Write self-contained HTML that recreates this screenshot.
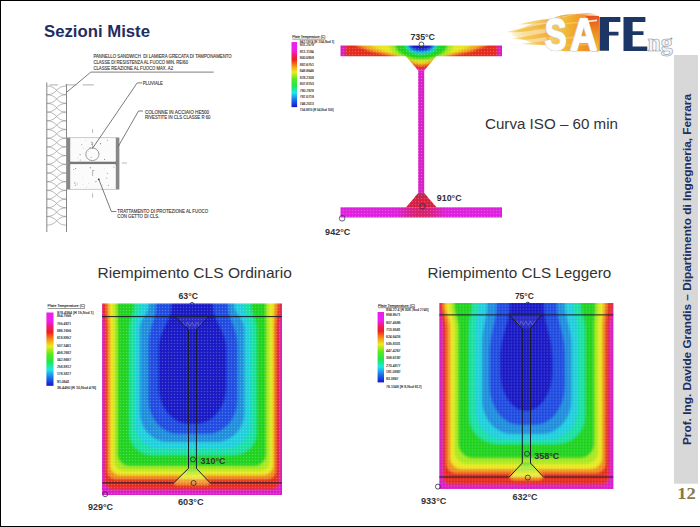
<!DOCTYPE html>
<html><head><meta charset="utf-8"><title>Sezioni Miste</title>
<style>
html,body{margin:0;padding:0;background:#fff;}
body{width:700px;height:527px;overflow:hidden;position:relative;font-family:"Liberation Sans",sans-serif;}
svg{position:absolute;left:0;top:0;display:block;}
</style></head><body>
<svg width="700" height="527" viewBox="0 0 700 527" shape-rendering="auto">
<rect x="0" y="0" width="700" height="1" fill="#000"/>
<rect x="0" y="0" width="1" height="527" fill="#000"/>
<rect x="0" y="526" width="700" height="1" fill="#000"/>
<text x="44" y="37" font-size="17" fill="#1f2d5f" font-weight="bold" text-anchor="start" font-family='"Liberation Sans", sans-serif' textLength="106" lengthAdjust="spacingAndGlyphs" >Sezioni Miste</text>
<path d="M46.8 82.5V232M66.5 84V232" stroke="#666" stroke-width="0.8" fill="none"/>
<path d="M46.8 86.0C57.8 86.0 55.5 94.7 66.5 94.7M46.8 94.7C57.8 94.7 55.5 86.0 66.5 86.0M46.8 94.7C57.8 94.7 55.5 103.4 66.5 103.4M46.8 103.4C57.8 103.4 55.5 94.7 66.5 94.7M46.8 103.4C57.8 103.4 55.5 112.1 66.5 112.1M46.8 112.1C57.8 112.1 55.5 103.4 66.5 103.4M46.8 112.1C57.8 112.1 55.5 120.8 66.5 120.8M46.8 120.8C57.8 120.8 55.5 112.1 66.5 112.1M46.8 120.8C57.8 120.8 55.5 129.5 66.5 129.5M46.8 129.5C57.8 129.5 55.5 120.8 66.5 120.8M46.8 129.5C57.8 129.5 55.5 138.2 66.5 138.2M46.8 138.2C57.8 138.2 55.5 129.5 66.5 129.5M46.8 138.2C57.8 138.2 55.5 146.9 66.5 146.9M46.8 146.9C57.8 146.9 55.5 138.2 66.5 138.2M46.8 146.9C57.8 146.9 55.5 155.6 66.5 155.6M46.8 155.6C57.8 155.6 55.5 146.9 66.5 146.9M46.8 155.6C57.8 155.6 55.5 164.3 66.5 164.3M46.8 164.3C57.8 164.3 55.5 155.6 66.5 155.6M46.8 164.3C57.8 164.3 55.5 173.0 66.5 173.0M46.8 173.0C57.8 173.0 55.5 164.3 66.5 164.3M46.8 173.0C57.8 173.0 55.5 181.7 66.5 181.7M46.8 181.7C57.8 181.7 55.5 173.0 66.5 173.0M46.8 181.7C57.8 181.7 55.5 190.4 66.5 190.4M46.8 190.4C57.8 190.4 55.5 181.7 66.5 181.7M46.8 190.4C57.8 190.4 55.5 199.1 66.5 199.1M46.8 199.1C57.8 199.1 55.5 190.4 66.5 190.4M46.8 199.1C57.8 199.1 55.5 207.8 66.5 207.8M46.8 207.8C57.8 207.8 55.5 199.1 66.5 199.1M46.8 207.8C57.8 207.8 55.5 216.5 66.5 216.5M46.8 216.5C57.8 216.5 55.5 207.8 66.5 207.8M46.8 216.5C57.8 216.5 55.5 225.2 66.5 225.2M46.8 225.2C57.8 225.2 55.5 216.5 66.5 216.5" stroke="#8a8a8a" stroke-width="0.6" fill="none"/>
<rect x="66.8" y="137.8" width="52.3" height="51.4" fill="#fbfbfb" stroke="#999" stroke-width="0.5"/>
<rect x="66.8" y="137.8" width="3.4" height="51.4" fill="#888"/>
<rect x="115.8" y="137.8" width="3.3" height="51.4" fill="#888"/>
<rect x="70" y="161.7" width="46" height="2.4" fill="#777"/>
<path d="M70 161.7l-1.5 -1.5M70 164.1l-1.5 1.5M115.8 161.7l1.5 -1.5M115.8 164.1l1.5 1.5" stroke="#777" stroke-width="0.8"/>
<ellipse cx="92.4" cy="154.3" rx="6.6" ry="6.3" fill="none" stroke="#777" stroke-width="0.7"/>
<path d="M92.6 129.3V133M92.6 142V148M92.6 170V176M92.6 193.3V197.6M121.9 163H126.9" stroke="#888" stroke-width="0.6"/>
<circle cx="81.9" cy="144.8" r="0.5" fill="#888"/><circle cx="92.1" cy="144.2" r="0.3" fill="#888"/><circle cx="88.9" cy="183.1" r="0.3" fill="#888"/><circle cx="83.6" cy="148.1" r="0.3" fill="#888"/><circle cx="83.0" cy="184.3" r="0.3" fill="#888"/><circle cx="106.8" cy="177.9" r="0.5" fill="#888"/><circle cx="80.1" cy="154.6" r="0.6" fill="#888"/><circle cx="108.4" cy="185.2" r="0.5" fill="#888"/><circle cx="75.6" cy="168.5" r="0.6" fill="#888"/><circle cx="88.3" cy="151.7" r="0.3" fill="#888"/><circle cx="91.9" cy="144.2" r="0.6" fill="#888"/><circle cx="107.3" cy="140.3" r="0.5" fill="#888"/><circle cx="96.0" cy="181.5" r="0.6" fill="#888"/><circle cx="80.2" cy="159.9" r="0.5" fill="#888"/><circle cx="90.1" cy="147.6" r="0.5" fill="#888"/><circle cx="82.9" cy="177.5" r="0.3" fill="#888"/><circle cx="73.9" cy="169.4" r="0.5" fill="#888"/><circle cx="93.8" cy="170.5" r="0.6" fill="#888"/><circle cx="86.4" cy="186.9" r="0.3" fill="#888"/><circle cx="74.8" cy="182.9" r="0.6" fill="#888"/><circle cx="98.6" cy="153.0" r="0.5" fill="#888"/><circle cx="90.3" cy="167.7" r="0.6" fill="#888"/><circle cx="95.5" cy="182.5" r="0.3" fill="#888"/><circle cx="107.3" cy="173.3" r="0.5" fill="#888"/><circle cx="104.1" cy="168.9" r="0.3" fill="#888"/><circle cx="77.1" cy="183.9" r="0.5" fill="#888"/><circle cx="91.3" cy="142.0" r="0.6" fill="#888"/><circle cx="75.5" cy="185.3" r="0.5" fill="#888"/><circle cx="102.9" cy="185.1" r="0.3" fill="#888"/><circle cx="85.6" cy="155.1" r="0.3" fill="#888"/><circle cx="104.6" cy="159.3" r="0.6" fill="#888"/><circle cx="100.6" cy="143.7" r="0.6" fill="#888"/><circle cx="77.7" cy="157.9" r="0.3" fill="#888"/><circle cx="85.9" cy="140.4" r="0.3" fill="#888"/><circle cx="91.1" cy="157.2" r="0.5" fill="#888"/><circle cx="113.9" cy="166.9" r="0.5" fill="#888"/>
<text x="93.4" y="57.5" font-size="4.6" fill="#3a3a3a" font-weight="normal" text-anchor="start" font-family='"Liberation Sans", sans-serif' textLength="138.3" lengthAdjust="spacingAndGlyphs" stroke="#3a3a3a" stroke-width="0.12">PANNELLO SANDWICH&#160;&#160;DI LAMIERA GRECATA DI TAMPONAMENTO</text>
<text x="93.4" y="63.8" font-size="4.6" fill="#3a3a3a" font-weight="normal" text-anchor="start" font-family='"Liberation Sans", sans-serif' textLength="94.6" lengthAdjust="spacingAndGlyphs" stroke="#3a3a3a" stroke-width="0.12">CLASSE DI RESISTENZA AL FUOCO MIN. REI60</text>
<text x="93.4" y="70.2" font-size="4.6" fill="#3a3a3a" font-weight="normal" text-anchor="start" font-family='"Liberation Sans", sans-serif' textLength="79.6" lengthAdjust="spacingAndGlyphs" stroke="#3a3a3a" stroke-width="0.12">CLASSE REAZIONE AL FUOCO MAX. A2</text>
<path d="M90.8 72.1H213.7M90.8 72.1L66.5 92.4" stroke="#444" stroke-width="0.7" fill="none"/>
<path d="M49.4 84.9H57.9M65.6 84.9H76.7M82.7 84.9H93.8" stroke="#999" stroke-width="0.8"/>
<text x="142.8" y="84.5" font-size="4.6" fill="#3a3a3a" font-weight="normal" text-anchor="start" font-family='"Liberation Sans", sans-serif' textLength="20" lengthAdjust="spacingAndGlyphs" stroke="#3a3a3a" stroke-width="0.12">PLUVIALE</text>
<path d="M142 82.9H137.2L92.4 148.5" stroke="#444" stroke-width="0.7" fill="none"/>
<text x="144.9" y="113.6" font-size="4.6" fill="#3a3a3a" font-weight="normal" text-anchor="start" font-family='"Liberation Sans", sans-serif' textLength="64.3" lengthAdjust="spacingAndGlyphs" stroke="#3a3a3a" stroke-width="0.12">COLONNE IN ACCIAIO HE500</text>
<text x="144.9" y="118.6" font-size="4.6" fill="#3a3a3a" font-weight="normal" text-anchor="start" font-family='"Liberation Sans", sans-serif' textLength="65.6" lengthAdjust="spacingAndGlyphs" stroke="#3a3a3a" stroke-width="0.12">RIVESTITE IN CLS CLASSE R 60</text>
<path d="M143 111H138.5L118.3 146.3" stroke="#444" stroke-width="0.7" fill="none"/>
<text x="117.3" y="213.1" font-size="4.6" fill="#3a3a3a" font-weight="normal" text-anchor="start" font-family='"Liberation Sans", sans-serif' textLength="90.9" lengthAdjust="spacingAndGlyphs" stroke="#3a3a3a" stroke-width="0.12">TRATTAMENTO DI PROTEZIONE AL FUOCO</text>
<text x="117.3" y="218.3" font-size="4.6" fill="#3a3a3a" font-weight="normal" text-anchor="start" font-family='"Liberation Sans", sans-serif' textLength="42" lengthAdjust="spacingAndGlyphs" stroke="#3a3a3a" stroke-width="0.12">CON GETTO DI CLS.</text>
<path d="M116.4 211.5H111.3L98.8 179.3" stroke="#444" stroke-width="0.7" fill="none"/>
<circle cx="98.8" cy="179.3" r="0.9" fill="#333"/>
<g>
<defs><pattern id="meshI" x="339" y="44" width="3" height="3" patternUnits="userSpaceOnUse"><rect x="0.85" y="0.85" width="1.3" height="1.3" fill="#fff" fill-opacity="0.22"/></pattern></defs>
<defs><clipPath id="ibc"><path d="M340.5 45.5H502V56.3H436.3L424.2 70.5H418.2L405.8 56.3H340.5Z"/></clipPath><filter id="bl1" x="-5%" y="-5%" width="110%" height="110%"><feGaussianBlur stdDeviation="0.8"/></filter></defs>
<g clip-path="url(#ibc)"><g filter="url(#bl1)">
<rect x="334" y="40" width="175" height="35" fill="#d81ec8"/>
<path fill="#e42a1e" d="M345.2 44L497.2 44L497.2 45.5L497.7 51L498.2 56.5L427.2 68.8L421.2 70L415.2 68.8L344.2 56.5L344.7 51L345.2 45.5Z"/>
<path fill="#f08c1e" d="M356.2 44L486.2 44L486.2 45.5L472.2 51L446.6 56.5L428.2 64.8L421.2 66L414.2 64.8L395.8 56.5L370.2 51L356.2 45.5Z"/>
<path fill="#f2b41e" d="M362.2 44L480.2 44L480.2 45.5L467.2 51L442.2 56.5L428.2 63.3L421.2 64.5L414.2 63.3L400.2 56.5L375.2 51L362.2 45.5Z"/>
<path fill="#e8e81e" d="M371.2 44L471.2 44L471.2 45.5L459.2 51L439.7 56.5L428.2 61.8L421.2 63L414.2 61.8L402.7 56.5L383.2 51L371.2 45.5Z"/>
<path fill="#a8e81e" d="M389.4 44L453 44L453 45.5C453 54.02 438.69 61 421.2 61C403.71 61 389.4 54.02 389.4 45.5Z"/>
<path fill="#1ed21e" d="M395.2 44L447.2 44L447.2 45.5C447.2 52.92 435.5 59 421.2 59C406.9 59 395.2 52.92 395.2 45.5Z"/>
<path fill="#14e0a0" d="M405.2 44L437.2 44L437.2 45.5C437.2 50.34 430 54.3 421.2 54.3C412.4 54.3 405.2 50.34 405.2 45.5Z"/>
<path fill="#1ccedc" d="M406.7 44L435.7 44L435.7 45.5C435.7 49.68 429.18 53.1 421.2 53.1C413.22 53.1 406.7 49.68 406.7 45.5Z"/>
<path fill="#1a8cdc" d="M408.2 44L434.2 44L434.2 45.5C434.2 49.13 428.35 52.1 421.2 52.1C414.05 52.1 408.2 49.13 408.2 45.5Z"/>
<path fill="#1a48e0" d="M409.2 44L433.2 44L433.2 45.5C433.2 48.69 427.8 51.3 421.2 51.3C414.6 51.3 409.2 48.69 409.2 45.5Z"/>
<path fill="#1212c4" d="M411.7 44L430.7 44L430.7 45.5C430.7 47.81 426.43 49.7 421.2 49.7C415.97 49.7 411.7 47.81 411.7 45.5Z"/>
</g>
<rect x="340" y="44" width="163" height="27" fill="url(#meshI)"/>
</g>
<rect x="418.2" y="70.3" width="6" height="123" fill="#d81ec8"/>
<defs><radialGradient id="bfg" cx="0.5" cy="0.35" r="0.6"><stop offset="0" stop-color="#dc1e3c"/><stop offset="0.6" stop-color="#d81e5a"/><stop offset="1" stop-color="#dc1edc"/></radialGradient><linearGradient id="bfl" x1="0" y1="0" x2="1" y2="0"><stop offset="0" stop-color="#dc1edc"/><stop offset="0.35" stop-color="#dc1edc"/><stop offset="0.45" stop-color="#d81e78"/><stop offset="0.5" stop-color="#d81e64"/><stop offset="0.55" stop-color="#d81e78"/><stop offset="0.65" stop-color="#dc1edc"/><stop offset="1" stop-color="#dc1edc"/></linearGradient></defs>
<rect x="340.5" y="207.3" width="161.5" height="10.2" fill="url(#bfl)"/>
<path d="M418.2 193.2H424.2L436.8 207.5H405.8Z" fill="#d41e40"/>
<path d="M418.2 193.2H424.2L428 197.3H414.4Z" fill="#b02848" opacity="0.8"/>
<path d="M418.2 70.3H424.2V193.2L436.8 207.3H502V217.5H340.5V207.3H405.8L418.2 193.2Z" fill="url(#meshI)"/>
<circle cx="421.4" cy="44.4" r="2.4" fill="none" stroke="#333" stroke-width="0.8"/>
<circle cx="422.5" cy="206.3" r="2.7" fill="none" stroke="#2a2a50" stroke-width="0.8"/>
<circle cx="342.1" cy="218.3" r="2.8" fill="none" stroke="#3a3a60" stroke-width="0.8"/>
</g>
<text x="410.4" y="39.8" font-size="9.6" fill="#333" font-weight="bold" text-anchor="start" font-family='"Liberation Sans", sans-serif' textLength="24.6" lengthAdjust="spacingAndGlyphs" >735°C</text>
<text x="436.8" y="200.7" font-size="9.6" fill="#333" font-weight="bold" text-anchor="start" font-family='"Liberation Sans", sans-serif' textLength="24.8" lengthAdjust="spacingAndGlyphs" >910°C</text>
<text x="325.1" y="234.6" font-size="9.6" fill="#333" font-weight="bold" text-anchor="start" font-family='"Liberation Sans", sans-serif' textLength="25.3" lengthAdjust="spacingAndGlyphs" >942°C</text>
<defs><linearGradient id="lg0" x1="0" y1="0" x2="0" y2="1"><stop offset="0" stop-color="#e81ee8"/><stop offset="0.12" stop-color="#f01ef0"/><stop offset="0.2" stop-color="#f01e64"/><stop offset="0.27" stop-color="#f01e1e"/><stop offset="0.37" stop-color="#f59614"/><stop offset="0.46" stop-color="#ecec1e"/><stop offset="0.57" stop-color="#5ae81e"/><stop offset="0.67" stop-color="#1ee84a"/><stop offset="0.78" stop-color="#1ee8e8"/><stop offset="0.88" stop-color="#1e78f0"/><stop offset="1" stop-color="#1414c8"/></linearGradient></defs>
<rect x="291.5" y="42.1" width="5.6" height="65" fill="url(#lg0)"/>
<text x="292.3" y="37.9" font-size="4" fill="#333" font-weight="normal" text-anchor="start" font-family='"Liberation Sans", sans-serif' textLength="33" lengthAdjust="spacingAndGlyphs" stroke="#333" stroke-width="0.15">Plate Temperature (C)</text>
<rect x="292.3" y="38.8" width="33" height="0.6" fill="#555"/>
<text x="299.8" y="42.75" font-size="4" fill="#333" font-weight="normal" text-anchor="start" font-family='"Liberation Sans", sans-serif' textLength="34.4" lengthAdjust="spacingAndGlyphs" stroke="#333" stroke-width="0.15">942.1874 [R 104,Nod 1]</text>
<text x="299.8" y="45.65" font-size="4" fill="#333" font-weight="normal" text-anchor="start" font-family='"Liberation Sans", sans-serif' textLength="14" lengthAdjust="spacingAndGlyphs" stroke="#333" stroke-width="0.15">931.2579</text>
<text x="299.8" y="52.95" font-size="4" fill="#333" font-weight="normal" text-anchor="start" font-family='"Liberation Sans", sans-serif' textLength="14" lengthAdjust="spacingAndGlyphs" stroke="#333" stroke-width="0.15">911.1184</text>
<text x="299.8" y="59.35" font-size="4" fill="#333" font-weight="normal" text-anchor="start" font-family='"Liberation Sans", sans-serif' textLength="14" lengthAdjust="spacingAndGlyphs" stroke="#333" stroke-width="0.15">900.0959</text>
<text x="299.8" y="65.85" font-size="4" fill="#333" font-weight="normal" text-anchor="start" font-family='"Liberation Sans", sans-serif' textLength="14" lengthAdjust="spacingAndGlyphs" stroke="#333" stroke-width="0.15">882.6751</text>
<text x="299.8" y="72.35" font-size="4" fill="#333" font-weight="normal" text-anchor="start" font-family='"Liberation Sans", sans-serif' textLength="14" lengthAdjust="spacingAndGlyphs" stroke="#333" stroke-width="0.15">848.8646</text>
<text x="299.8" y="78.85" font-size="4" fill="#333" font-weight="normal" text-anchor="start" font-family='"Liberation Sans", sans-serif' textLength="14" lengthAdjust="spacingAndGlyphs" stroke="#333" stroke-width="0.15">828.2338</text>
<text x="299.8" y="85.25" font-size="4" fill="#333" font-weight="normal" text-anchor="start" font-family='"Liberation Sans", sans-serif' textLength="14" lengthAdjust="spacingAndGlyphs" stroke="#333" stroke-width="0.15">807.8153</text>
<text x="299.8" y="91.75" font-size="4" fill="#333" font-weight="normal" text-anchor="start" font-family='"Liberation Sans", sans-serif' textLength="14" lengthAdjust="spacingAndGlyphs" stroke="#333" stroke-width="0.15">790.7928</text>
<text x="299.8" y="98.15" font-size="4" fill="#333" font-weight="normal" text-anchor="start" font-family='"Liberation Sans", sans-serif' textLength="14" lengthAdjust="spacingAndGlyphs" stroke="#333" stroke-width="0.15">782.0719</text>
<text x="299.8" y="104.65" font-size="4" fill="#333" font-weight="normal" text-anchor="start" font-family='"Liberation Sans", sans-serif' textLength="14" lengthAdjust="spacingAndGlyphs" stroke="#333" stroke-width="0.15">746.2013</text>
<text x="299.8" y="110.85" font-size="4" fill="#333" font-weight="normal" text-anchor="start" font-family='"Liberation Sans", sans-serif' textLength="33.7" lengthAdjust="spacingAndGlyphs" stroke="#333" stroke-width="0.15">734.5915 [R 54,Nod 100]</text>
<text x="485" y="129.3" font-size="15.2" fill="#333" font-weight="normal" text-anchor="start" font-family='"Liberation Sans", sans-serif' textLength="133" lengthAdjust="spacingAndGlyphs" >Curva ISO – 60 min</text>
<defs><linearGradient id="flm" x1="0" y1="0" x2="1" y2="0"><stop offset="0" stop-color="#f6d77a"/><stop offset="0.35" stop-color="#f3bb3a"/><stop offset="0.6" stop-color="#f0a227"/><stop offset="0.85" stop-color="#ee8a22"/><stop offset="1" stop-color="#e8561c"/></linearGradient><linearGradient id="flm2" x1="0" y1="0" x2="0" y2="1"><stop offset="0" stop-color="#e8501c"/><stop offset="0.45" stop-color="#f08a20"/><stop offset="1" stop-color="#f3c23a"/></linearGradient><linearGradient id="wsp" x1="0" y1="0" x2="1" y2="0"><stop offset="0" stop-color="#f6d878" stop-opacity="0.55"/><stop offset="0.3" stop-color="#f4c850"/><stop offset="1" stop-color="#f0a830"/></linearGradient></defs>
<path d="M546 24 C552 18 560 17 568 16 C576 14.5 586 15 598.8 16 L598.8 51.2 L566 51.2 C558 50.5 553 49 549 45 C545 39 544.5 30 546 24Z" fill="url(#flm)"/>
<path d="M586 16 L598.8 16 L598.8 51.2 L592 51.2 Z" fill="url(#flm2)"/>
<path d="M552 25 C562 23 572 22 584 21.5 L584 23 C572 23.5 562 24.5 552 26Z" fill="#f7d060" opacity="0.7"/>
<path d="M556 38 C566 37 576 36.5 588 36 L588 37.5 C576 38 566 38.8 556 39.5Z" fill="#f8d468" opacity="0.6"/>
<path d="M560 45 C570 44.2 580 44 592 44 L592 45.3 C580 45.5 570 46 560 46.5Z" fill="#f6c850" opacity="0.6"/>
<path d="M552 19 C560 14.5 570 13.5 580 14.8 C572 15.2 562 16.5 552 19Z" fill="#f0a030" opacity="0.85"/>
<path d="M570 16 C578 12.8 588 12.8 596 14.5 C588 14.5 578 15 570 16Z" fill="#f09030" opacity="0.8"/>
<path d="M512 33 C522 28 534 22 548 19.5 L550 46 C538 45 526 41 512 35Z" fill="url(#wsp)" opacity="0.55"/>
<path d="M516 30.2 C526 28.6 536 27.6 548 27.6 L548 28.6 C536 28.8 526 29.8 516 30.8Z" fill="#fff" opacity="0.7"/>
<path d="M520 36.2 C530 35.4 540 35.2 549 35.4 L549 36.4 C540 36.3 530 36.5 520 36.9Z" fill="#fff" opacity="0.6"/>
<path d="M506 32 C516 30 526 27.5 536 25.5 C542 24.3 547 23.5 551 23.2 L551 27.8 C545 28.2 539 29.2 532 30.6 C523 32.2 514 32.8 506 32Z" fill="url(#wsp)" opacity="0.95"/>
<path d="M512 38.5 C522 37 532 35 541 33.5 C545 32.8 549 32.3 552 32 L552 36.6 C546 37 540 38 533 39 C525 40 518 39.8 512 38.5Z" fill="url(#wsp)" opacity="0.9"/>
<path d="M518 24.5 C526 22.5 534 20.5 542 19.5 C546 19 549 18.8 551 18.8 L550 22 C544 22.2 538 23 532 23.8 C527 24.4 522 24.8 518 24.5Z" fill="url(#wsp)" opacity="0.75"/>
<path d="M521 43.5 C529 42.8 537 42 544 41.3 L550 41 L550 44.5 C543 45 536 45 529 44.6 C526 44.4 523 44 521 43.5Z" fill="url(#wsp)" opacity="0.7"/>
<path d="M528 28.8 C535 27.8 542 27 549 26.8 L549 29.2 C542 29.6 535 29.8 528 28.8Z" fill="url(#wsp)" opacity="0.6"/>
<text x="544.8" y="49.8" font-size="45" font-weight="bold" font-family='"Liberation Sans", sans-serif' fill="#fff" stroke="#cfcfcf" stroke-width="2.6" stroke-linejoin="round" textLength="21.8" lengthAdjust="spacingAndGlyphs">S</text>
<text x="544.8" y="49.8" font-size="45" font-weight="bold" font-family='"Liberation Sans", sans-serif' fill="#fff" stroke="#fff" stroke-width="1.3" stroke-linejoin="round" textLength="21.8" lengthAdjust="spacingAndGlyphs">S</text>
<text x="570.2" y="49.8" font-size="45" font-weight="bold" font-family='"Liberation Sans", sans-serif' fill="#fff" stroke="#cfcfcf" stroke-width="2.6" stroke-linejoin="round" textLength="27" lengthAdjust="spacingAndGlyphs">A</text>
<text x="570.2" y="49.8" font-size="45" font-weight="bold" font-family='"Liberation Sans", sans-serif' fill="#fff" stroke="#fff" stroke-width="1.3" stroke-linejoin="round" textLength="27" lengthAdjust="spacingAndGlyphs">A</text>
<path d="M588 20.5 L597 19.5 L597 21.2 L588 22.2Z" fill="#fff" opacity="0.85"/>
<path d="M599.5 17.1H620.4V22H609V31.8H618.5V35.6H609V50.8H599.5Z" fill="#1c3766"/>
<path d="M623.5 17.1H645.4V21.9H632.6V31.3H643.5V35.1H632.6V46.5H647.3V51H623.5Z" fill="#1c3766"/>
<text x="647.5" y="50.6" font-size="25" font-weight="bold" font-family='"Liberation Serif", serif' fill="#f4f6fa" stroke="#8a909c" stroke-width="0.6" textLength="25.2" lengthAdjust="spacingAndGlyphs">ng</text>
<rect x="674" y="55" width="24" height="428.7" fill="#d8d8d8"/>
<text transform="translate(691.2 445) rotate(-90)" x="0" y="0" font-size="11.8" font-weight="bold" fill="#1f2d5f" font-family='"Liberation Sans", sans-serif' textLength="351" lengthAdjust="spacingAndGlyphs">Prof. Ing. Davide Grandis – Dipartimento di Ingegneria, Ferrara</text>
<text x="677.3" y="498.6" font-size="16.6" fill="#887848" font-weight="bold" text-anchor="start" font-family='"Liberation Serif", serif' textLength="18.6" lengthAdjust="spacingAndGlyphs" >12</text>
<text x="97.5" y="277.5" font-size="15.3" fill="#333" font-weight="normal" text-anchor="start" font-family='"Liberation Sans", sans-serif' textLength="194.3" lengthAdjust="spacingAndGlyphs" >Riempimento CLS Ordinario</text>
<text x="427.5" y="277.5" font-size="15.3" fill="#333" font-weight="normal" text-anchor="start" font-family='"Liberation Sans", sans-serif' textLength="183.8" lengthAdjust="spacingAndGlyphs" >Riempimento CLS Leggero</text>
<defs><pattern id="meshL" x="100.9" y="302.9" width="3" height="3" patternUnits="userSpaceOnUse"><rect x="0.85" y="0.85" width="1.3" height="1.3" fill="#fff" fill-opacity="0.27"/></pattern></defs>
<defs><pattern id="meshR" x="437.8" y="301.5" width="3" height="3" patternUnits="userSpaceOnUse"><rect x="0.85" y="0.85" width="1.3" height="1.3" fill="#fff" fill-opacity="0.27"/></pattern></defs>
<defs><clipPath id="meshLclip"><rect x="102" y="303.4" width="180" height="191.6"/></clipPath></defs>
<g clip-path="url(#meshLclip)"><g filter="url(#bl1)">
<rect x="97" y="298.4" width="190" height="201.6" fill="#d81ec8"/>
<path fill="#e42a1e" d="M102 298.4L102 305.4C102 313.8 104.2 318.6 104.2 329.4L104.2 481.7A8 8 0 0 0 112.2 489.7L271.8 489.7A8 8 0 0 0 279.8 481.7L279.8 329.4C279.8 318.6 282 313.8 282 305.4L282 298.4Z"/>
<path fill="#f08c1e" d="M106.4 298.4L106.4 305.4C106.4 313.8 107.6 318.6 107.6 329.4L107.6 471A8 8 0 0 0 115.6 479L267.6 479A8 8 0 0 0 275.6 471L275.6 329.4C275.6 318.6 277.6 313.8 277.6 305.4L277.6 298.4Z"/>
<path fill="#e8e81e" d="M109.3 298.4L109.3 305.4C109.3 313.8 110.3 318.6 110.3 329.4L110.3 466A9 9 0 0 0 119.3 475L264.2 475A9 9 0 0 0 273.2 466L273.2 329.4C273.2 318.6 274 313.8 274 305.4L274 298.4Z"/>
<path fill="#a8e81e" d="M113.6 298.4L113.6 305.4C113.6 313.8 114 318.6 114 329.4L114 460.7A10 10 0 0 0 124 470.7L259.8 470.7A10 10 0 0 0 269.8 460.7L269.8 329.4C269.8 318.6 268.8 313.8 268.8 305.4L268.8 298.4Z"/>
<path fill="#1ed21e" d="M117 298.4L117 305.4C117 313.8 117.6 318.6 117.6 329.4L117.6 454.3A12 12 0 0 0 129.6 466.3L254.2 466.3A12 12 0 0 0 266.2 454.3L266.2 329.4C266.2 318.6 265.8 313.8 265.8 305.4L265.8 298.4Z"/>
<path fill="#14e0a0" d="M134.3 298.4L134.3 305.4C134.3 313.8 129.5 318.6 129.5 329.4L129.5 433A22 22 0 0 0 151.5 455L234.5 455A22 22 0 0 0 256.5 433L256.5 329.4C256.5 318.6 251 313.8 251 305.4L251 298.4Z"/>
<path fill="#1ccedc" d="M140.7 298.4L140.7 305.4C140.7 313.8 135 318.6 135 329.4L135 424A25 25 0 0 0 160 449L225.5 449A25 25 0 0 0 250.5 424L250.5 329.4C250.5 318.6 244 313.8 244 305.4L244 298.4Z"/>
<path fill="#1a8cdc" d="M148.6 298.4L148.6 305.4C148.6 313.8 139.8 318.6 139.8 329.4L139.8 412A28 30 0 0 0 167.8 442L216.5 442A28 30 0 0 0 244.5 412L244.5 329.4C244.5 318.6 234.5 313.8 234.5 305.4L234.5 298.4Z"/>
<path fill="#1a48e0" d="M156 298.4L156 305.4C156 319.26 148.5 327.18 148.5 345L148.5 400A30 34 0 0 0 178.5 434L207.5 434A30 34 0 0 0 237.5 400L237.5 345C237.5 327.18 228 319.26 228 305.4L228 298.4Z"/>
<path fill="#1212c4" d="M171.4 298.4L171.4 305.4C171.4 321.01 158.5 329.93 158.5 350L158.5 386A30 38 0 0 0 188.5 424L196.5 424A30 38 0 0 0 226.5 386L226.5 350C226.5 329.93 213 321.01 213 305.4L213 298.4Z"/>
<defs><linearGradient id="meshLfg" gradientUnits="userSpaceOnUse" x1="0" y1="468.4" x2="0" y2="488.9"><stop offset="0" stop-color="#1ed21e"/><stop offset="0.08" stop-color="#1ed21e"/><stop offset="0.08" stop-color="#a8e81e"/><stop offset="0.27" stop-color="#a8e81e"/><stop offset="0.27" stop-color="#e8e81e"/><stop offset="0.54" stop-color="#e8e81e"/><stop offset="0.54" stop-color="#f08c1e"/><stop offset="0.81" stop-color="#f08c1e"/><stop offset="0.81" stop-color="#e42a1e"/><stop offset="1" stop-color="#e42a1e"/></linearGradient></defs>
<path d="M188.5 468.4L196.4 468.4L210.2 482.9C206.2 486.9 200.45 488.9 192.45 488.9C184.45 488.9 177.6 486.9 173.6 482.9Z" fill="url(#meshLfg)"/>
</g></g>
<rect x="102" y="303.4" width="180" height="191.6" fill="url(#meshL)"/>
<path d="M174.8 316.6L209 316.6L196.4 329.6L188.5 329.6Z" fill="#b0b8e0" fill-opacity="0.10"/>
<path d="M182.65 322.45L185.03 326.35L187.41 322.45L189.79 326.35L192.18 322.45L194.56 326.35L196.94 322.45L199.32 326.35L201.7 322.45" fill="none" stroke="#8a94b8" stroke-width="0.6" opacity="0.8"/>
<path d="M188.5 468.4L196.4 468.4L210.2 482.9L173.6 482.9Z" fill="#fff" fill-opacity="0.12"/>
<path d="M102 316.6H282M102 482.9H173.6M210.2 482.9H282M174.8 316.6L188.5 329.6V468.4L173.6 482.9M209 316.6L196.4 329.6V468.4L210.2 482.9" stroke="#1a1a2a" stroke-width="1" fill="none"/>
<path d="M189.8 304A2.4 2.4 0 0 1 194.2 304" fill="none" stroke="#1a1a50" stroke-width="0.9"/>
<circle cx="193" cy="459.4" r="2.5" fill="none" stroke="#2a2a4a" stroke-width="0.8"/>
<circle cx="193.6" cy="483" r="2.5" fill="none" stroke="#2a2a4a" stroke-width="0.8"/>
<circle cx="105.2" cy="494.2" r="2.5" fill="none" stroke="#2a2a4a" stroke-width="0.8"/>
<text x="178.5" y="298.8" font-size="9.6" fill="#333" font-weight="bold" text-anchor="start" font-family='"Liberation Sans", sans-serif' textLength="19.5" lengthAdjust="spacingAndGlyphs" >63°C</text>
<text x="200.6" y="464" font-size="9.6" fill="#333" font-weight="bold" text-anchor="start" font-family='"Liberation Sans", sans-serif' textLength="24.8" lengthAdjust="spacingAndGlyphs" >310°C</text>
<text x="178" y="505" font-size="9.6" fill="#333" font-weight="bold" text-anchor="start" font-family='"Liberation Sans", sans-serif' textLength="25.6" lengthAdjust="spacingAndGlyphs" >603°C</text>
<text x="88" y="510" font-size="9.6" fill="#333" font-weight="bold" text-anchor="start" font-family='"Liberation Sans", sans-serif' textLength="25" lengthAdjust="spacingAndGlyphs" >929°C</text>
<defs><clipPath id="meshRclip"><rect x="439.3" y="303" width="174.1" height="186"/></clipPath></defs>
<g clip-path="url(#meshRclip)"><g filter="url(#bl1)">
<rect x="434.3" y="298" width="184.1" height="196" fill="#d81ec8"/>
<path fill="#e42a1e" d="M439.3 298L439.3 305C439.3 313.4 442.8 318.2 442.8 329L442.8 477A8 8 0 0 0 450.8 485L601.4 485A8 8 0 0 0 609.4 477L609.4 329C609.4 318.2 613.4 313.4 613.4 305L613.4 298Z"/>
<path fill="#f08c1e" d="M442.7 298L442.7 305C442.7 313.4 446.6 318.2 446.6 329L446.6 464A9 9 0 0 0 455.6 473L596.2 473A9 9 0 0 0 605.2 464L605.2 329C605.2 318.2 607 313.4 607 305L607 298Z"/>
<path fill="#e8e81e" d="M445.6 298L445.6 305C445.6 313.4 450.3 318.2 450.3 329L450.3 458A11 11 0 0 0 461.3 469L591 469A11 11 0 0 0 602 458L602 329C602 318.2 603.6 313.4 603.6 305L603.6 298Z"/>
<path fill="#a8e81e" d="M450.6 298L450.6 305C450.6 313.4 454.4 318.2 454.4 329L454.4 451A13 13 0 0 0 467.4 464L585.2 464A13 13 0 0 0 598.2 451L598.2 329C598.2 318.2 599 313.4 599 305L599 298Z"/>
<path fill="#1ed21e" d="M454.2 298L454.2 305C454.2 313.4 458.2 318.2 458.2 329L458.2 443.3A15 15 0 0 0 473.2 458.3L579.4 458.3A15 15 0 0 0 594.4 443.3L594.4 329C594.4 318.2 595.6 313.4 595.6 305L595.6 298Z"/>
<path fill="#14e0a0" d="M472 298L472 305C472 313.4 469.1 318.2 469.1 329L469.1 416A28 28 0 0 0 497.1 444L557 444A28 28 0 0 0 585 416L585 329C585 318.2 580.7 313.4 580.7 305L580.7 298Z"/>
<path fill="#1ccedc" d="M478.4 298L478.4 305C478.4 313.4 475.6 318.2 475.6 329L475.6 410A30 30 0 0 0 505.6 440L547.9 440A30 30 0 0 0 577.9 410L577.9 329C577.9 318.2 573.6 313.4 573.6 305L573.6 298Z"/>
<path fill="#1a8cdc" d="M487 298L487 305C487 319 482 327 482 345L482 400A30 34 0 0 0 512 434L541.5 434A30 34 0 0 0 571.5 400L571.5 345C571.5 327 565 319 565 305L565 298Z"/>
<path fill="#1a48e0" d="M496.5 298L496.5 305C496.5 322.5 489.5 332.5 489.5 355L489.5 385A30 40 0 0 0 519.5 425L535 425A30 40 0 0 0 565 385L565 355C565 332.5 557 322.5 557 305L557 298Z"/>
<path fill="#1212c4" d="M509.5 298L509.5 305C509.5 324.25 500 335.25 500 360L500 371A26 40 0 0 0 526 411L526.5 411A26 40 0 0 0 552.5 371L552.5 360C552.5 335.25 544 324.25 544 305L544 298Z"/>
<defs><linearGradient id="meshRfg" gradientUnits="userSpaceOnUse" x1="0" y1="463.1" x2="0" y2="483"><stop offset="-0.01" stop-color="#1ed21e"/><stop offset="0.12" stop-color="#1ed21e"/><stop offset="0.12" stop-color="#a8e81e"/><stop offset="0.45" stop-color="#a8e81e"/><stop offset="0.45" stop-color="#e8e81e"/><stop offset="0.68" stop-color="#e8e81e"/><stop offset="0.68" stop-color="#f08c1e"/><stop offset="0.84" stop-color="#f08c1e"/><stop offset="0.84" stop-color="#e42a1e"/><stop offset="1" stop-color="#e42a1e"/></linearGradient></defs>
<path d="M522.3 463.1L530.5 463.1L543.5 477C539.5 481 534.4 483 526.4 483C518.4 483 513.2 481 509.2 477Z" fill="url(#meshRfg)"/>
</g></g>
<rect x="439.3" y="303" width="174.1" height="186" fill="url(#meshR)"/>
<path d="M509.2 314.9L541.5 314.9L530.5 328.6L522.3 328.6Z" fill="#b0b8e0" fill-opacity="0.10"/>
<path d="M516.75 321.06L519.03 325.18L521.31 321.06L523.59 325.18L525.88 321.06L528.16 325.18L530.44 321.06L532.72 325.18L535 321.06" fill="none" stroke="#8a94b8" stroke-width="0.6" opacity="0.8"/>
<path d="M522.3 463.1L530.5 463.1L543.5 477L509.2 477Z" fill="#fff" fill-opacity="0.12"/>
<path d="M439.3 314.9H613.4M439.3 477H509.2M543.5 477H613.4M509.2 314.9L522.3 328.6V463.1L509.2 477M541.5 314.9L530.5 328.6V463.1L543.5 477" stroke="#1a1a2a" stroke-width="1" fill="none"/>
<path d="M525.5 303.6A2.4 2.4 0 0 1 529.9 303.6" fill="none" stroke="#1a1a50" stroke-width="0.9"/>
<circle cx="527" cy="453.8" r="2.5" fill="none" stroke="#2a2a4a" stroke-width="0.8"/>
<circle cx="527.8" cy="477.6" r="2.5" fill="none" stroke="#2a2a4a" stroke-width="0.8"/>
<circle cx="437.9" cy="486.6" r="2.5" fill="none" stroke="#2a2a4a" stroke-width="0.8"/>
<text x="514.9" y="299.2" font-size="9.6" fill="#333" font-weight="bold" text-anchor="start" font-family='"Liberation Sans", sans-serif' textLength="19" lengthAdjust="spacingAndGlyphs" >75°C</text>
<text x="534.3" y="459" font-size="9.6" fill="#333" font-weight="bold" text-anchor="start" font-family='"Liberation Sans", sans-serif' textLength="25" lengthAdjust="spacingAndGlyphs" >358°C</text>
<text x="512.5" y="500.2" font-size="9.6" fill="#333" font-weight="bold" text-anchor="start" font-family='"Liberation Sans", sans-serif' textLength="25" lengthAdjust="spacingAndGlyphs" >632°C</text>
<text x="420.9" y="503.6" font-size="9.6" fill="#333" font-weight="bold" text-anchor="start" font-family='"Liberation Sans", sans-serif' textLength="25.5" lengthAdjust="spacingAndGlyphs" >933°C</text>
<defs><linearGradient id="lg1" x1="0" y1="0" x2="0" y2="1"><stop offset="0" stop-color="#e81ee8"/><stop offset="0.12" stop-color="#f01ef0"/><stop offset="0.2" stop-color="#f01e64"/><stop offset="0.27" stop-color="#f01e1e"/><stop offset="0.37" stop-color="#f59614"/><stop offset="0.46" stop-color="#ecec1e"/><stop offset="0.57" stop-color="#5ae81e"/><stop offset="0.67" stop-color="#1ee84a"/><stop offset="0.78" stop-color="#1ee8e8"/><stop offset="0.88" stop-color="#1e78f0"/><stop offset="1" stop-color="#1414c8"/></linearGradient></defs>
<rect x="46.4" y="312.5" width="7.1" height="73.3" fill="url(#lg1)"/>
<text x="47.6" y="307.3" font-size="4.2" fill="#333" font-weight="normal" text-anchor="start" font-family='"Liberation Sans", sans-serif' textLength="37.4" lengthAdjust="spacingAndGlyphs" stroke="#333" stroke-width="0.15">Plate Temperature (C)</text>
<rect x="47.6" y="308.2" width="37.4" height="0.6" fill="#555"/>
<text x="57" y="314.05" font-size="4.2" fill="#333" font-weight="normal" text-anchor="start" font-family='"Liberation Sans", sans-serif' textLength="36.5" lengthAdjust="spacingAndGlyphs" stroke="#333" stroke-width="0.15">978.4364 [R 15,Nod 1]</text>
<text x="57" y="316.65" font-size="4.2" fill="#333" font-weight="normal" text-anchor="start" font-family='"Liberation Sans", sans-serif' textLength="14" lengthAdjust="spacingAndGlyphs" stroke="#333" stroke-width="0.15">854.7556</text>
<text x="57" y="325.45" font-size="4.2" fill="#333" font-weight="normal" text-anchor="start" font-family='"Liberation Sans", sans-serif' textLength="14" lengthAdjust="spacingAndGlyphs" stroke="#333" stroke-width="0.15">755.4921</text>
<text x="57" y="332.45" font-size="4.2" fill="#333" font-weight="normal" text-anchor="start" font-family='"Liberation Sans", sans-serif' textLength="14" lengthAdjust="spacingAndGlyphs" stroke="#333" stroke-width="0.15">696.1656</text>
<text x="57" y="339.45" font-size="4.2" fill="#333" font-weight="normal" text-anchor="start" font-family='"Liberation Sans", sans-serif' textLength="14" lengthAdjust="spacingAndGlyphs" stroke="#333" stroke-width="0.15">618.8852</text>
<text x="57" y="346.75" font-size="4.2" fill="#333" font-weight="normal" text-anchor="start" font-family='"Liberation Sans", sans-serif' textLength="14" lengthAdjust="spacingAndGlyphs" stroke="#333" stroke-width="0.15">537.3461</text>
<text x="57" y="354.35" font-size="4.2" fill="#333" font-weight="normal" text-anchor="start" font-family='"Liberation Sans", sans-serif' textLength="14" lengthAdjust="spacingAndGlyphs" stroke="#333" stroke-width="0.15">458.2682</text>
<text x="57" y="361.35" font-size="4.2" fill="#333" font-weight="normal" text-anchor="start" font-family='"Liberation Sans", sans-serif' textLength="14" lengthAdjust="spacingAndGlyphs" stroke="#333" stroke-width="0.15">342.8687</text>
<text x="57" y="368.35" font-size="4.2" fill="#333" font-weight="normal" text-anchor="start" font-family='"Liberation Sans", sans-serif' textLength="14" lengthAdjust="spacingAndGlyphs" stroke="#333" stroke-width="0.15">258.8812</text>
<text x="57" y="375.25" font-size="4.2" fill="#333" font-weight="normal" text-anchor="start" font-family='"Liberation Sans", sans-serif' textLength="14" lengthAdjust="spacingAndGlyphs" stroke="#333" stroke-width="0.15">178.3827</text>
<text x="57" y="382.65" font-size="4.2" fill="#333" font-weight="normal" text-anchor="start" font-family='"Liberation Sans", sans-serif' textLength="12.5" lengthAdjust="spacingAndGlyphs" stroke="#333" stroke-width="0.15">91.0641</text>
<text x="57" y="389.25" font-size="4.2" fill="#333" font-weight="normal" text-anchor="start" font-family='"Liberation Sans", sans-serif' textLength="39" lengthAdjust="spacingAndGlyphs" stroke="#333" stroke-width="0.15">36.4450 [R 10,Nod 476]</text>
<defs><linearGradient id="lg2" x1="0" y1="0" x2="0" y2="1"><stop offset="0" stop-color="#e81ee8"/><stop offset="0.12" stop-color="#f01ef0"/><stop offset="0.2" stop-color="#f01e64"/><stop offset="0.27" stop-color="#f01e1e"/><stop offset="0.37" stop-color="#f59614"/><stop offset="0.46" stop-color="#ecec1e"/><stop offset="0.57" stop-color="#5ae81e"/><stop offset="0.67" stop-color="#1ee84a"/><stop offset="0.78" stop-color="#1ee8e8"/><stop offset="0.88" stop-color="#1e78f0"/><stop offset="1" stop-color="#1414c8"/></linearGradient></defs>
<rect x="377.6" y="312" width="6.4" height="70.4" fill="url(#lg2)"/>
<text x="378" y="306.6" font-size="4.2" fill="#333" font-weight="normal" text-anchor="start" font-family='"Liberation Sans", sans-serif' textLength="37" lengthAdjust="spacingAndGlyphs" stroke="#333" stroke-width="0.15">Plate Temperature (C)</text>
<rect x="378" y="307.5" width="37" height="0.6" fill="#555"/>
<text x="386" y="311.45" font-size="4.2" fill="#333" font-weight="normal" text-anchor="start" font-family='"Liberation Sans", sans-serif' textLength="42.5" lengthAdjust="spacingAndGlyphs" stroke="#333" stroke-width="0.15">934.22 4 [R 308 ,Nod 2743]</text>
<text x="386" y="316.45" font-size="4.2" fill="#333" font-weight="normal" text-anchor="start" font-family='"Liberation Sans", sans-serif' textLength="14.5" lengthAdjust="spacingAndGlyphs" stroke="#333" stroke-width="0.15">859.9571</text>
<text x="386" y="323.75" font-size="4.2" fill="#333" font-weight="normal" text-anchor="start" font-family='"Liberation Sans", sans-serif' textLength="14.5" lengthAdjust="spacingAndGlyphs" stroke="#333" stroke-width="0.15">807.4586</text>
<text x="386" y="330.75" font-size="4.2" fill="#333" font-weight="normal" text-anchor="start" font-family='"Liberation Sans", sans-serif' textLength="14.5" lengthAdjust="spacingAndGlyphs" stroke="#333" stroke-width="0.15">713.8591</text>
<text x="386" y="338.35" font-size="4.2" fill="#333" font-weight="normal" text-anchor="start" font-family='"Liberation Sans", sans-serif' textLength="14.5" lengthAdjust="spacingAndGlyphs" stroke="#333" stroke-width="0.15">624.6416</text>
<text x="386" y="344.95" font-size="4.2" fill="#333" font-weight="normal" text-anchor="start" font-family='"Liberation Sans", sans-serif' textLength="14.5" lengthAdjust="spacingAndGlyphs" stroke="#333" stroke-width="0.15">535.8331</text>
<text x="386" y="352.35" font-size="4.2" fill="#333" font-weight="normal" text-anchor="start" font-family='"Liberation Sans", sans-serif' textLength="14.5" lengthAdjust="spacingAndGlyphs" stroke="#333" stroke-width="0.15">447.4267</text>
<text x="386" y="359.35" font-size="4.2" fill="#333" font-weight="normal" text-anchor="start" font-family='"Liberation Sans", sans-serif' textLength="14.5" lengthAdjust="spacingAndGlyphs" stroke="#333" stroke-width="0.15">358.6192</text>
<text x="386" y="366.75" font-size="4.2" fill="#333" font-weight="normal" text-anchor="start" font-family='"Liberation Sans", sans-serif' textLength="14.5" lengthAdjust="spacingAndGlyphs" stroke="#333" stroke-width="0.15">270.4877</text>
<text x="386" y="372.85" font-size="4.2" fill="#333" font-weight="normal" text-anchor="start" font-family='"Liberation Sans", sans-serif' textLength="14.5" lengthAdjust="spacingAndGlyphs" stroke="#333" stroke-width="0.15">181.0892</text>
<text x="386" y="380.25" font-size="4.2" fill="#333" font-weight="normal" text-anchor="start" font-family='"Liberation Sans", sans-serif' textLength="12.5" lengthAdjust="spacingAndGlyphs" stroke="#333" stroke-width="0.15">93.3867</text>
<text x="386" y="387.85" font-size="4.2" fill="#333" font-weight="normal" text-anchor="start" font-family='"Liberation Sans", sans-serif' textLength="35.5" lengthAdjust="spacingAndGlyphs" stroke="#333" stroke-width="0.15">76.1348 [R 8,Nod 612]</text>
</svg>
</body></html>
